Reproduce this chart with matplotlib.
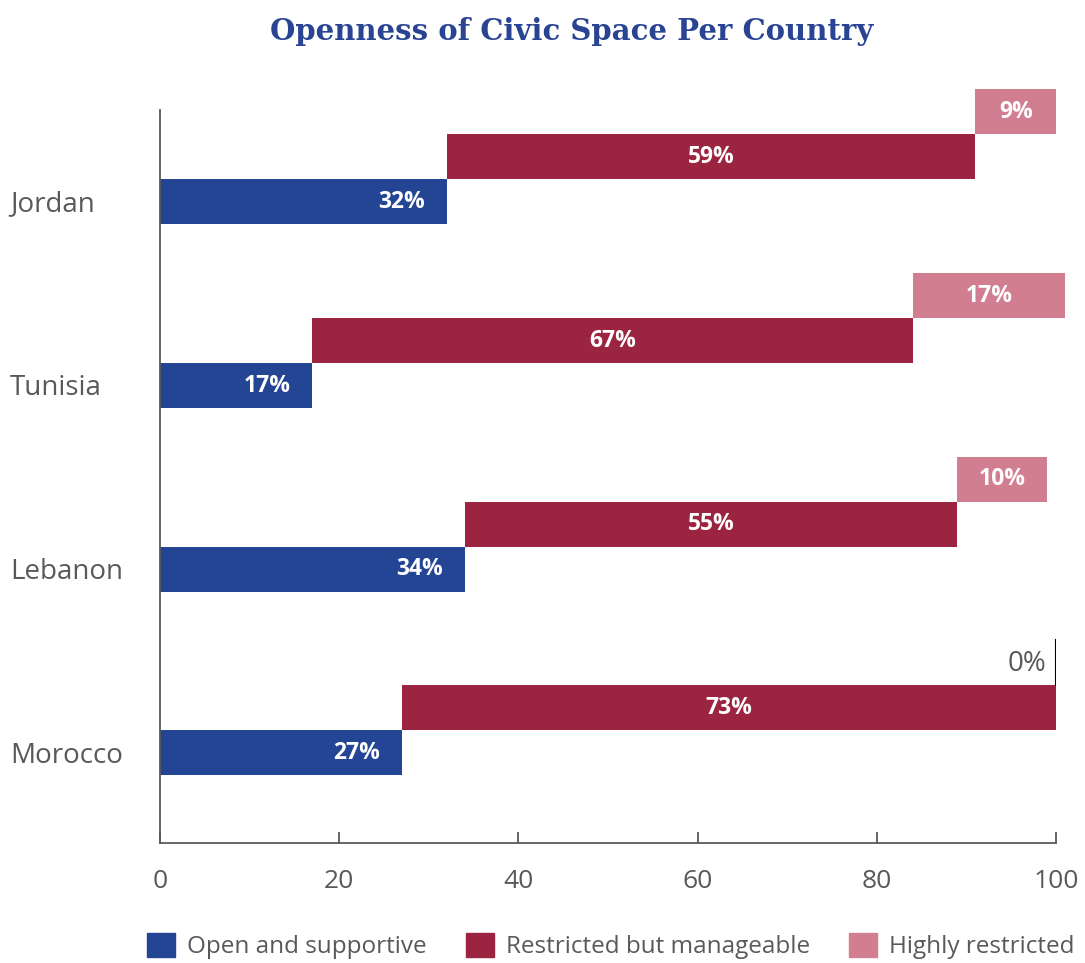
import matplotlib.pyplot as plt
import matplotlib.patches as mpatches
from matplotlib.transforms import blended_transform_factory

countries = ["Morocco", "Lebanon", "Tunisia", "Jordan"]
open_supportive = [27, 34, 17, 32]
restricted_manageable = [73, 55, 67, 59]
highly_restricted = [0, 10, 17, 9]

blue = "#244494"
red = "#9b2540"
pink = "#d27e91"
grey = "#595959"

fig = plt.figure(figsize=(10.85, 9.63), dpi=100)
ax = fig.add_axes([160 / 1085, 120 / 963, 896 / 1085, 733 / 963])

h = 0.245
for i, c in enumerate(countries):
    o = open_supportive[i]
    r = restricted_manageable[i]
    p = highly_restricted[i]
    ax.barh(i, o, height=h, color=blue)
    ax.barh(i + h, r, left=o, height=h, color=red)
    ax.text(o - 2.4, i, f"{o}%", ha="right", va="center", color="white",
            fontsize=16.5, fontweight="bold", family="Open Sans")
    ax.text(o + r / 2, i + h, f"{r}%", ha="center", va="center", color="white",
            fontsize=16.5, fontweight="bold", family="Open Sans")
    if p > 0:
        ax.barh(i + 2 * h, p, left=o + r, height=h, color=pink, clip_on=False)
        ax.text(o + r + p / 2, i + 2 * h, f"{p}%", ha="center", va="center",
                color="white", fontsize=16.5, fontweight="bold", family="Open Sans")
    else:
        # empty segment: just a thin marker line at the end
        ax.plot([o + r, o + r], [i + 1.5 * h, i + 2.5 * h], color="black", lw=1.5)
        ax.text(o + r - 1.1, i + 1.97 * h, f"{p}%", ha="right", va="center",
                color=grey, fontsize=20, family="Open Sans")

ax.set_xlim(0, 100)
ax.set_ylim(-0.49, 3.5)
ax.set_xticks([0, 20, 40, 60, 80, 100])
ax.tick_params(axis="x", direction="in", length=8, width=1.3, colors=grey,
               labelsize=19, pad=19)
for lbl in ax.get_xticklabels():
    lbl.set_family("Open Sans")
ax.set_yticks([])
for s in ["top", "right"]:
    ax.spines[s].set_visible(False)
for s in ["left", "bottom"]:
    ax.spines[s].set_color(grey)
    ax.spines[s].set_linewidth(1.3)

trans = blended_transform_factory(fig.transFigure, ax.transData)
for i, c in enumerate(countries):
    ax.text(10 / 1085, i - 0.015, c, transform=trans, ha="left", va="center",
            fontsize=20, color=grey, family="Open Sans")

fig.suptitle("Openness of Civic Space Per Country", x=572 / 1085, y=1 - 31 / 963,
             va="center", fontsize=21, fontweight="bold", color="#2a4494",
             family="DejaVu Serif")

handles = [mpatches.Patch(color=blue, label="Open and supportive"),
           mpatches.Patch(color=red, label="Restricted but manageable"),
           mpatches.Patch(color=pink, label="Highly restricted")]
leg = fig.legend(handles=handles, loc="center", bbox_to_anchor=(611 / 1085, 1 - 946 / 963),
                 ncol=3, frameon=False, handlelength=1.15, handleheight=1.15,
                 handletextpad=0.5, columnspacing=1.6, prop={"family": "Open Sans", "size": 17.5})
for t in leg.get_texts():
    t.set_color(grey)

fig.savefig("out.png", dpi=100)
